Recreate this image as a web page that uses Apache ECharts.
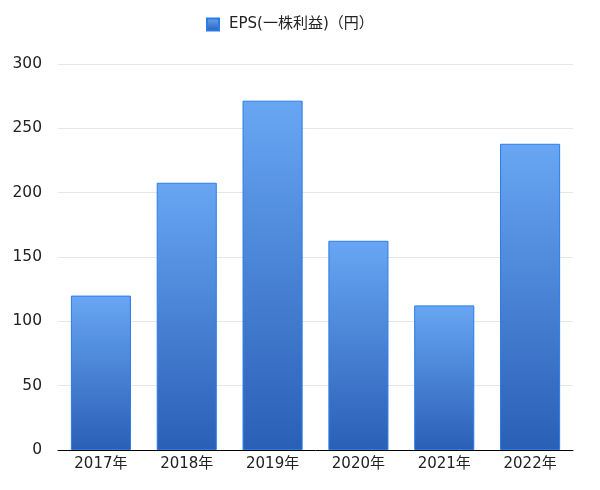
<!DOCTYPE html>
<html><head><meta charset="utf-8">
<script src="https://cdn.jsdelivr.net/npm/echarts@6/dist/echarts.min.js"></script>
<style>html,body{margin:0;padding:0;background:#fff}#c{width:600px;height:490px}</style>
</head><body><div id="c"></div>
<script>
const categories = ['2017年','2018年','2019年','2020年','2021年','2022年'];
const epsValues = [120, 207.7, 271.5, 162.6, 112.4, 238];
const seriesName = 'EPS(一株利益)（円）';
const yTicks = {min: 0, max: 300, interval: 50};

const font = '"DejaVu Sans", "Noto Sans CJK JP", sans-serif';
const chart = echarts.init(document.getElementById('c'), null, {renderer: 'canvas'});
chart.setOption({
  animation: false,
  textStyle: {fontFamily: font},
  legend: {
    top: 12, left: 201,
    itemWidth: 12, itemHeight: 12, itemGap: 8,
    textStyle: {fontSize: 15, color: '#222', fontFamily: font, padding: [0, 0, 0, 5]},
    data: [{name: seriesName, icon: 'rect'}]
  },
  grid: {left: 58, right: 27, top: 64, bottom: 40, containLabel: false},
  xAxis: {
    type: 'category', data: categories,
    axisLine: {lineStyle: {color: '#000', width: 1}},
    axisTick: {show: false},
    axisLabel: {fontSize: 15, color: '#222', margin: 7, fontFamily: font}
  },
  yAxis: {
    type: 'value', min: yTicks.min, max: yTicks.max, interval: yTicks.interval,
    axisLine: {show: false}, axisTick: {show: false},
    axisLabel: {fontSize: 15.5, color: '#222', margin: 16, fontFamily: font},
    splitLine: {lineStyle: {color: '#e6e6e6', width: 1}}
  },
  series: [{
    name: seriesName, type: 'bar', data: epsValues,
    barCategoryGap: '30%',
    itemStyle: {
      color: new echarts.graphic.LinearGradient(0, 0, 0, 1, [
        {offset: 0, color: '#68a6f3'},
        {offset: 1, color: '#2a5fb6'}
      ]),
      borderColor: '#2a7de8', borderWidth: 1
    }
  }]
});
</script></body></html>
